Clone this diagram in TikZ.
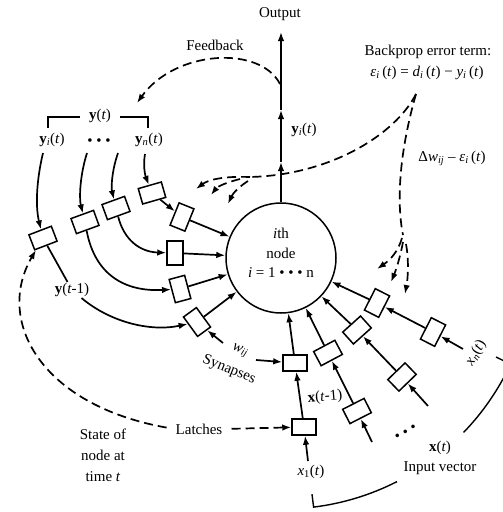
\documentclass[tikz,border=0pt]{standalone}
\usepackage{fontspec}
\setmainfont{Liberation Serif}
\usetikzlibrary{arrows.meta}
\newcommand{\mysub}[1]{\textsubscript{#1}}
\begin{document}
\begin{tikzpicture}[x=1pt,y=-1pt,
  lbl/.style={font=\fontsize{15}{18}\selectfont, inner sep=1pt},
  box/.style={draw, line width=1.5pt, minimum width=24pt, minimum height=16pt, inner sep=0pt, fill=white},
  ln/.style={line width=1.7pt},
  arr/.style={line width=1.7pt, -{Latex[length=9pt,width=6.5pt]}},
  dsh/.style={line width=1.7pt, dash pattern=on 9pt off 5pt},
  darr/.style={dsh, -{Latex[length=9pt,width=6.5pt]}},
]
\useasboundingbox (0,0) rectangle (503,512);

% central node
\node[draw, circle, line width=1.5pt, minimum size=110pt, inner sep=0pt] (Z) at (281,258) {};
\node[lbl] (zt1) at (281,233) {\textit{i}th};
\node[lbl] (zt2) at (281,253) {node};
\node[lbl] (zt3) at (281,273) {\textit{i} = 1 • • • n};

% latch / synapse boxes
\node[box, rotate=21]  (A) at (43,238) {};
\node[box, rotate=20]  (B) at (85,222) {};
\node[box, rotate=20]  (C) at (116,208) {};
\node[box, rotate=16]  (D) at (152,193) {};
\node[box, rotate=68]  (E) at (182,217) {};
\node[box, rotate=90]  (F) at (175,253) {};
\node[box, rotate=105] (G) at (180,289) {};
\node[box, rotate=126] (H) at (197,322) {};
\node[box]             (I) at (295,363) {};
\node[box]             (J) at (304,427) {};
\node[box, rotate=28]  (K) at (328,353) {};
\node[box, rotate=27]  (L) at (357,411) {};
\node[box, rotate=42]  (M) at (357,330) {};
\node[box, rotate=44]  (N) at (402,377) {};
\node[box, rotate=63]  (O) at (377,303) {};
\node[box, rotate=63]  (P) at (433,332) {};

% labels
\node[lbl] (out) at (280,14) {Output};
\node[lbl] (fbl) at (215,45) {Feedback};
\node[lbl] (bpt) at (428,52) {Backprop error term:};
\node[lbl] (bpe) at (427,73) {\textit{ε}\mysub{\textit{i}}\,(\textit{t}) = \textit{d}\mysub{\textit{i}}\,(\textit{t}) − \textit{y}\mysub{\textit{i}}\,(\textit{t})};
\node[lbl] (dw) at (452,158) {Δ\textit{w}\mysub{\textit{ij}} – \textit{ε}\mysub{\textit{i}}\,(\textit{t})};
\node[lbl] (yt) at (100,116) {\textbf{y}(\textit{t})};
\node[lbl] (y1) at (52,140) {\textbf{y}\mysub{\textit{i}}(\textit{t})};
\node[lbl] (ydots) at (99,142) {• • •};
\node[lbl] (yn) at (149,140) {\textbf{y}\mysub{\textit{n}}(\textit{t})};
\node[lbl] (yi) at (304,130) {\textbf{y}\mysub{\textit{i}}(\textit{t})};
\node[lbl] (ytm1) at (72,290) {\textbf{y}(\textit{t}-1)};
\node[lbl, rotate=-22] (w) at (240,351) {\textit{w}\mysub{\textit{ij}}};
\node[lbl, rotate=-22] (syn) at (229,370) {Synapses};
\node[lbl, rotate=5] (xtm1) at (325,397) {\textbf{x}(\textit{t}-1)};
\node[lbl] (lat) at (199,429) {Latches};
\node[lbl, align=center, font=\fontsize{15}{21}\selectfont] (state) at (103,455) {State of\\node at\\time \textit{t}};
\node[lbl] (x1) at (311,472) {\textit{x}\mysub{1}(\textit{t})};
\node[lbl, rotate=60] (xn) at (476,353) {\textit{x}\mysub{\textit{n}}(\textit{t})};
\node[lbl, rotate=28] (xdots) at (406,433) {• • •};
\node[lbl] (xt) at (440,448) {\textbf{x}(\textit{t})};
\node[lbl] (iv) at (440,468) {Input vector};

% bracket y(t)
\draw[line width=1.4pt] (48,128) -- (48,117) -- (80,117);
\draw[line width=1.4pt] (120,117) -- (148,117) -- (148,128);

% bracket input vector (arc around node)
\draw[line width=1.4pt] (312,494.2) -- (313.6,507.1) arc[start angle=-83, end angle=-63, radius=251pt];
\draw[line width=1.4pt] (463.6,432.4) arc[start angle=-44, end angle=-25, radius=251pt] -- (496,357);

% output line
\coordinate (o1) at (281,162);
\coordinate (o2) at (281,110);
\coordinate (otop) at (281,32);
\draw[arr] (Z.north) -- (o1);
\draw[arr] (o1) -- (o2);
\draw[arr] (o2) -- (otop);

% y feedback lines
\coordinate (y1s) at (43,153);
\coordinate (bs) at (87,153);
\coordinate (cs) at (118,153);
\coordinate (ds) at (145,154);
\draw[arr] (y1s) .. controls (37,178) and (35,205) .. (A);
\draw[ln] (A) -- (ytm1);
\draw[arr] (ytm1) .. controls (110,322) and (150,332) .. (H);
\draw[arr] (bs) .. controls (80,175) and (79,198) .. (B);
\draw[arr] (B) .. controls (95,275) and (125,292) .. (G);
\draw[arr] (cs) .. controls (112,170) and (111,187) .. (C);
\draw[arr] (C) .. controls (124,240) and (140,252) .. (F);
\draw[arr] (ds) .. controls (143,165) and (145,175) .. (D);
\draw[arr] (D) -- (E);
\draw[arr] (E) -- (Z);
\draw[arr] (F) -- (Z);
\draw[arr] (G) -- (Z);
\draw[arr] (H) -- (Z);

% synapse weights
\coordinate (wa) at (223,343);
\coordinate (wb) at (256,360);
\draw[arr] (wa) -- (H);
\draw[arr] (wb) -- (I);

% input lines
\coordinate (x1s) at (308,461);
\coordinate (ls) at (372,442);
\coordinate (ns) at (428,406);
\coordinate (ps) at (463,349);
\draw[arr] (x1s) -- (J);
\draw[arr] (J) -- (I);
\draw[arr] (I) -- (Z);
\draw[arr] (ls) -- (L);
\draw[arr] (L) -- (K);
\draw[arr] (K) -- (Z);
\draw[arr] (ns) -- (N);
\draw[arr] (N) -- (M);
\draw[arr] (M) -- (Z);
\draw[arr] (ps) -- (P);
\draw[arr] (P) -- (O);
\draw[arr] (O) -- (Z);

% feedback dashed
\coordinate (fb) at (280,84);
\coordinate (fbe) at (137,103);
\draw[darr] (fb) .. controls (260,45) and (175,50) .. (fbe);

% backprop dashed
\coordinate (bp) at (416,94);
\coordinate (bpl) at (250,177);
\coordinate (bpr) at (403,235);
\draw[dsh] (bp) .. controls (395,135) and (330,175) .. (bpl);
\draw[darr] (bpl) .. controls (222,176) and (208,180) .. (196,189);
\draw[darr] (240,179) .. controls (228,182) and (218,186) .. (211,195);
\draw[darr] (248,181) .. controls (240,186) and (233,193) .. (228,204);
\draw[dsh] (bp) .. controls (400,150) and (396,200) .. (bpr);
\draw[darr] (402,238) .. controls (398,252) and (390,260) .. (377,269);
\draw[darr] (403,242) .. controls (400,258) and (396,270) .. (391,282);
\draw[darr] (406,244) .. controls (409,260) and (408,278) .. (405,294);

% latches dashed
\draw[darr, shorten <=8pt] (lat.west) .. controls (40,405) and (-5,320) .. (A);
\draw[darr, shorten <=8pt] (lat.east) -- (J);
\end{tikzpicture}
\end{document}
